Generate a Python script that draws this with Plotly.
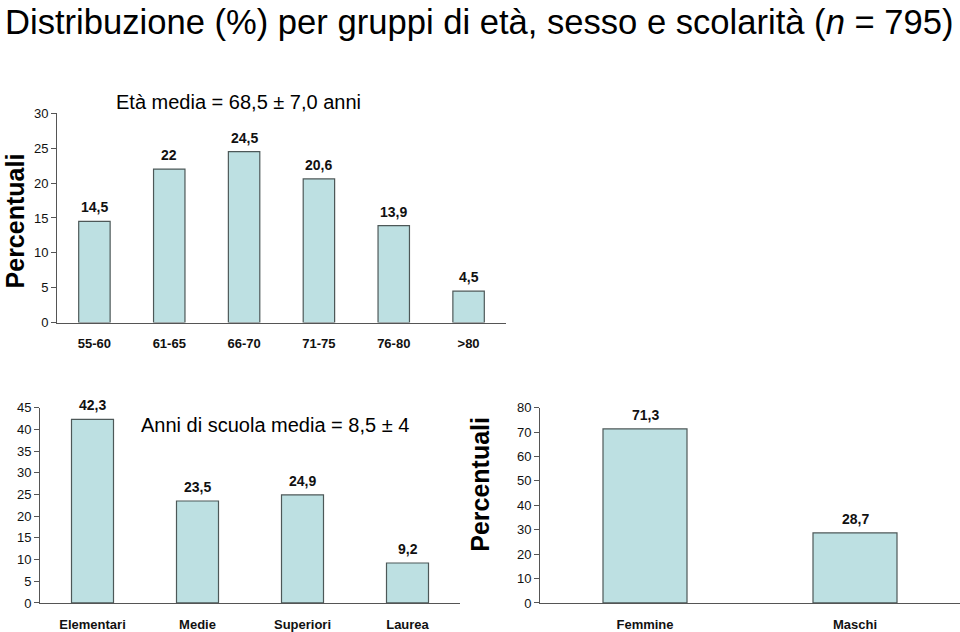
import plotly.graph_objects as go

age_groups = ["55-60", "61-65", "66-70", "71-75", "76-80", ">80"]
age_pct = [14.5, 22, 24.5, 20.6, 13.9, 4.5]
age_lbl = ["14,5", "22", "24,5", "20,6", "13,9", "4,5"]

edu_groups = ["Elementari", "Medie", "Superiori", "Laurea"]
edu_pct = [42.3, 23.5, 24.9, 9.2]
edu_lbl = ["42,3", "23,5", "24,9", "9,2"]

sex_groups = ["Femmine", "Maschi"]
sex_pct = [71.3, 28.7]
sex_lbl = ["71,3", "28,7"]

age_ticks = [0, 5, 10, 15, 20, 25, 30]
edu_ticks = [0, 5, 10, 15, 20, 25, 30, 35, 40, 45]
sex_ticks = [0, 10, 20, 30, 40, 50, 60, 70, 80]

BAR = "#bde0e2"
EDGE = "#4d5858"
FONT = "Liberation Sans, Arial, sans-serif"
TICKFONT = "Liberation Sans Narrow, Liberation Sans, Arial, sans-serif"
W, H = 960, 632

# empirical mapping from target screen pixels to layout pixels
OX, OY, SY = 0, 7, 0.975

def fx(px):
    return (px - OX) / W

def fy(py):
    return 1 - (py / SY - OY) / H

fig = go.Figure()

def add_bars(cats, vals, lbls, xa, ya, width):
    fig.add_trace(go.Bar(x=cats, y=vals, xaxis=xa, yaxis=ya, width=width,
                         marker=dict(color=BAR, line=dict(color=EDGE, width=1.2)),
                         showlegend=False, hoverinfo="x+y"))
    for c, v, t in zip(cats, vals, lbls):
        fig.add_annotation(x=c, y=v, xref=xa, yref=ya, text="<b>" + t + "</b>",
                           showarrow=False, yanchor="bottom", yshift=4,
                           font=dict(family=TICKFONT, size=14, color="#111"))

add_bars(age_groups, age_pct, age_lbl, "x", "y", 0.42)
add_bars(edu_groups, edu_pct, edu_lbl, "x2", "y2", 0.4)
add_bars(sex_groups, sex_pct, sex_lbl, "x3", "y3", 0.4)

axis_common = dict(showline=True, linecolor="#555", linewidth=1, showgrid=False,
                   zeroline=False, tickfont=dict(family=TICKFONT, size=13, color="#111"),
                   tickprefix="<b>", ticksuffix="</b>")

xcommon = dict(axis_common, ticks="outside", ticklen=9, tickcolor="rgba(0,0,0,0)",
               type="category")
ycommon = dict(axis_common, ticks="outside", ticklen=5, tickcolor="#555")

fig.update_layout(
    width=W, height=H,
    margin=dict(l=0, r=0, t=0, b=0),
    paper_bgcolor="white", plot_bgcolor="white",
    xaxis=dict(xcommon, domain=[fx(57), fx(506)], anchor="y"),
    yaxis=dict(ycommon, domain=[fy(322), fy(113)], anchor="x", range=[0, 30],
               tickvals=age_ticks),
    xaxis2=dict(xcommon, domain=[fx(40), fx(460)], anchor="y2"),
    yaxis2=dict(ycommon, domain=[fy(602), fy(407)], anchor="x2", range=[0, 45],
                tickvals=edu_ticks),
    xaxis3=dict(xcommon, domain=[fx(540), 1.0], anchor="y3"),
    yaxis3=dict(ycommon, domain=[fy(602), fy(407)], anchor="x3", range=[0, 80],
                tickvals=sex_ticks),
    font=dict(family=FONT),
)

fig.add_annotation(x=fx(3), y=min(1.0, fy(22)), xref="paper", yref="paper",
                   xanchor="left", yanchor="middle", showarrow=False,
                   text="Distribuzione (%) per gruppi di età, sesso e scolarità (<i>n</i> = 795)",
                   font=dict(family=FONT, size=34.6, color="#000"))
fig.add_annotation(x=fx(15), y=fy(221), xref="paper", yref="paper",
                   xanchor="center", yanchor="middle", showarrow=False, textangle=-90,
                   text="<b>Percentuali</b>", font=dict(family=FONT, size=25, color="#000"))
fig.add_annotation(x=fx(480), y=fy(484), xref="paper", yref="paper",
                   xanchor="center", yanchor="middle", showarrow=False, textangle=-90,
                   text="<b>Percentuali</b>", font=dict(family=FONT, size=25, color="#000"))
fig.add_annotation(x=fx(114), y=fy(102), xref="paper", yref="paper",
                   xanchor="left", yanchor="middle", showarrow=False,
                   text="Età media = 68,5 ± 7,0 anni",
                   font=dict(family=FONT, size=20, color="#000"))
fig.add_annotation(x=fx(139), y=fy(424), xref="paper", yref="paper",
                   xanchor="left", yanchor="middle", showarrow=False,
                   text="Anni di scuola media = 8,5 ± 4",
                   font=dict(family=FONT, size=20, color="#000"))

fig.write_html("out.html", config={"displayModeBar": False},
               post_script="document.body.style.margin='0';document.body.style.overflow='hidden';")
